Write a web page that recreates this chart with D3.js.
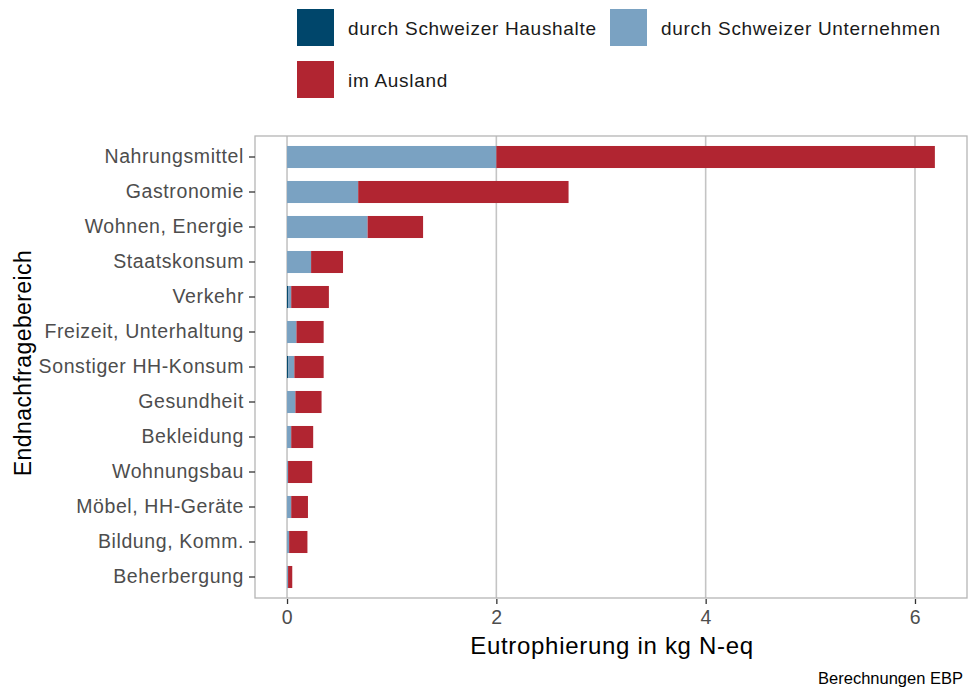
<!DOCTYPE html>
<html>
<head>
<meta charset="utf-8">
<script src="https://cdn.jsdelivr.net/npm/d3@7"></script>
<style>
  body { margin: 0; background: #fff; }
  svg { font-family: "Liberation Sans", Arial, sans-serif; }
</style>
</head>
<body>
<svg id="chart" width="969" height="693"></svg>
<script>
// categories, top to bottom
var categories = ['Nahrungsmittel', 'Gastronomie', 'Wohnen, Energie', 'Staatskonsum', 'Verkehr',
  'Freizeit, Unterhaltung', 'Sonstiger HH-Konsum', 'Gesundheit', 'Bekleidung', 'Wohnungsbau',
  'Möbel, HH-Geräte', 'Bildung, Komm.', 'Beherbergung'];
var haushalte   = [0, 0, 0, 0, 0.01, 0, 0.013, 0, 0, 0, 0, 0, 0];
var unternehmen = [2.0, 0.68, 0.77, 0.23, 0.03, 0.09, 0.057, 0.08, 0.04, 0.01, 0.04, 0.02, 0.01];
var ausland     = [4.19, 2.01, 0.53, 0.305, 0.36, 0.26, 0.28, 0.25, 0.21, 0.23, 0.16, 0.175, 0.04];
var seriesNames = ['durch Schweizer Haushalte', 'durch Schweizer Unternehmen', 'im Ausland'];
var xTicks = [0, 2, 4, 6];

var colors = ['#00466b', '#7aa2c2', '#b12531'];

var svg = d3.select('#chart');
var panel = { left: 255, right: 967, top: 136, bottom: 598 };

var rows = categories.map((c, i) => ({
  cat: c, haushalte: haushalte[i], unternehmen: unternehmen[i], ausland: ausland[i]
}));
var stack = d3.stack().keys(['haushalte', 'unternehmen', 'ausland']);
var layers = stack(rows);

var x = d3.scaleLinear()
  .domain([-0.306, 6.497])
  .range([panel.left, panel.right]);

// ggplot-like discrete expansion: 0.6 step from edge to first centre
var y = d3.scaleBand()
  .domain(categories)
  .range([panel.top, panel.bottom])
  .paddingInner(0.37)
  .paddingOuter(0.6 - 0.63 / 2);

// panel grid
svg.append('g').selectAll('line')
  .data(xTicks)
  .enter().append('line')
    .attr('x1', d => x(d)).attr('x2', d => x(d))
    .attr('y1', panel.top).attr('y2', panel.bottom)
    .attr('stroke', '#c4c4c4')
    .attr('stroke-width', 1.6);

// bars
svg.append('g').selectAll('g')
  .data(layers)
  .enter().append('g')
    .attr('fill', (d, i) => colors[i])
  .selectAll('rect')
  .data(d => d)
  .enter().append('rect')
    .attr('x', d => x(d[0]))
    .attr('width', d => Math.max(0, x(d[1]) - x(d[0])))
    .attr('y', d => y(d.data.cat))
    .attr('height', y.bandwidth());

// panel border
svg.append('rect')
  .attr('x', panel.left).attr('y', panel.top)
  .attr('width', panel.right - panel.left)
  .attr('height', panel.bottom - panel.top)
  .attr('fill', 'none')
  .attr('stroke', '#b5b5b5')
  .attr('stroke-width', 1.3);

// axes
var xAxis = svg.append('g')
  .attr('transform', 'translate(0,' + panel.bottom + ')')
  .call(d3.axisBottom(x).tickValues(xTicks).tickFormat(d3.format('d')).tickSize(5).tickPadding(7));
var yAxis = svg.append('g')
  .attr('transform', 'translate(' + panel.left + ',0)')
  .call(d3.axisLeft(y).tickSize(6).tickPadding(5));

[xAxis, yAxis].forEach(a => {
  a.select('.domain').remove();
  a.selectAll('.tick line').attr('stroke', '#333').attr('stroke-width', 1.3);
  a.selectAll('.tick text')
    .attr('fill', '#4d4d4d')
    .style('font-size', '19.5px')
    .style('letter-spacing', '0.6px')
    .style('font-family', '"Liberation Sans", Arial, sans-serif');
});
xAxis.selectAll('.tick line').attr('transform', 'translate(0,1)');

// axis titles
svg.append('text')
  .attr('x', 612)
  .attr('y', 654)
  .attr('text-anchor', 'middle')
  .style('font-size', '24px')
  .style('letter-spacing', '0.7px')
  .text('Eutrophierung in kg N-eq');

svg.append('text')
  .attr('transform', 'translate(31,' + ((panel.top + panel.bottom) / 2 - 4) + ') rotate(-90)')
  .attr('text-anchor', 'middle')
  .style('font-size', '23px')
  .style('letter-spacing', '0.4px')
  .text('Endnachfragebereich');

svg.append('text')
  .attr('x', 963)
  .attr('y', 684)
  .attr('text-anchor', 'end')
  .style('font-size', '16.5px')
  .text('Berechnungen EBP');

// legend
var legendPos = [[297, 9], [610, 9], [297, 61]];
var legend = svg.append('g').selectAll('g')
  .data(seriesNames)
  .enter().append('g')
    .attr('transform', (d, i) => 'translate(' + legendPos[i][0] + ',' + legendPos[i][1] + ')');
legend.append('rect')
  .attr('width', 37).attr('height', 37)
  .attr('fill', (d, i) => colors[i]);
legend.append('text')
  .attr('x', 51).attr('y', 26)
  .style('font-size', '19px')
  .style('letter-spacing', '0.7px')
  .attr('fill', '#1a1a1a')
  .text(d => d);
</script>
</body>
</html>
